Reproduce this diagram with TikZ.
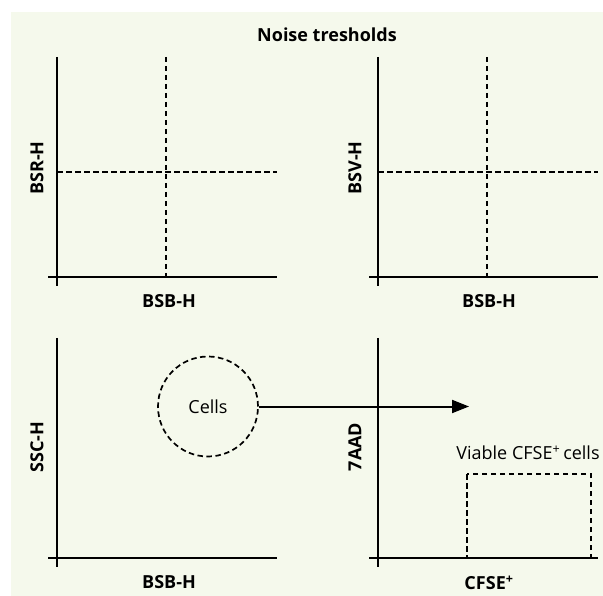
\documentclass[tikz,border=0pt]{standalone}
\usepackage{fontspec}
\setmainfont{Open Sans}
\usetikzlibrary{arrows.meta}
\definecolor{bgc}{RGB}{245,249,236}
\begin{document}
\begin{tikzpicture}[x=1pt,y=-1pt,
  axis/.style={line width=2.2pt},
  thr/.style={line width=1.9pt, dash pattern=on 5.5pt off 3.5pt},
  gate/.style={line width=1.7pt, dash pattern=on 5.5pt off 3.5pt},
  lab/.style={font=\bfseries\fontsize{18}{20}\selectfont, inner sep=0pt},
  txt/.style={font=\fontsize{18}{20}\selectfont, inner sep=0pt},
  flow/.style={line width=2pt, -{Triangle[length=17pt,width=13pt]}}]
\useasboundingbox (0,0) rectangle (603,596);
\fill[bgc] (11,12) rectangle (603,596);

\node[lab] (title) at (327,35) {Noise tresholds};

% top-left plot
\coordinate (a1t) at (57,57); \coordinate (a1b) at (57,286);
\coordinate (a1l) at (48,277); \coordinate (a1r) at (277,277);
\draw[axis] (a1t) -- (a1b);
\draw[axis] (a1l) -- (a1r);
\coordinate (t1vt) at (166,57); \coordinate (t1vb) at (166,277);
\coordinate (t1hl) at (57,172); \coordinate (t1hr) at (277,172);
\draw[thr] (t1vt) -- (t1vb);
\draw[thr] (t1hl) -- (t1hr);
\node[lab, rotate=90] (y1) at (37,168) {BSR-H};
\node[lab] (x1) at (169,301.5) {BSB-H};

% top-right plot
\coordinate (a2t) at (378,57); \coordinate (a2b) at (378,286);
\coordinate (a2l) at (369,277); \coordinate (a2r) at (598,277);
\draw[axis] (a2t) -- (a2b);
\draw[axis] (a2l) -- (a2r);
\coordinate (t2vt) at (487,57); \coordinate (t2vb) at (487,277);
\coordinate (t2hl) at (378,172); \coordinate (t2hr) at (598,172);
\draw[thr] (t2vt) -- (t2vb);
\draw[thr] (t2hl) -- (t2hr);
\node[lab, rotate=90] (y2) at (355,168) {BSV-H};
\node[lab] (x2) at (489,301.5) {BSB-H};

% bottom-left plot
\coordinate (a3t) at (57,338); \coordinate (a3b) at (57,567);
\coordinate (a3l) at (48,558); \coordinate (a3r) at (277,558);
\draw[axis] (a3t) -- (a3b);
\draw[axis] (a3l) -- (a3r);
\node[gate, draw, circle, minimum size=100pt, inner sep=0pt, txt] (cells) at (208,406.5) {Cells};
\node[lab, rotate=90] (y3) at (37,447) {SSC-H};
\node[lab] (x3) at (169,582.5) {BSB-H};

% bottom-right plot
\coordinate (a4t) at (378,338); \coordinate (a4b) at (378,567);
\coordinate (a4l) at (369,558); \coordinate (a4r) at (598,558);
\draw[axis] (a4t) -- (a4b);
\draw[axis] (a4l) -- (a4r);
\coordinate (g1) at (467,474); \coordinate (g2) at (591,558);
\draw[gate] (g1) rectangle (g2);
\node[txt] (viable) at (528,453) {Viable CFSE\textsuperscript{+}\,cells};
\node[lab, rotate=90] (y4) at (355,447) {7AAD};
\node[lab] (x4) at (489,582.5) {CFSE\textsuperscript{+}};

% connector
\coordinate (arrowend) at (469,406.5);
\draw[flow] (cells.east) -- (arrowend);
\end{tikzpicture}
\end{document}
